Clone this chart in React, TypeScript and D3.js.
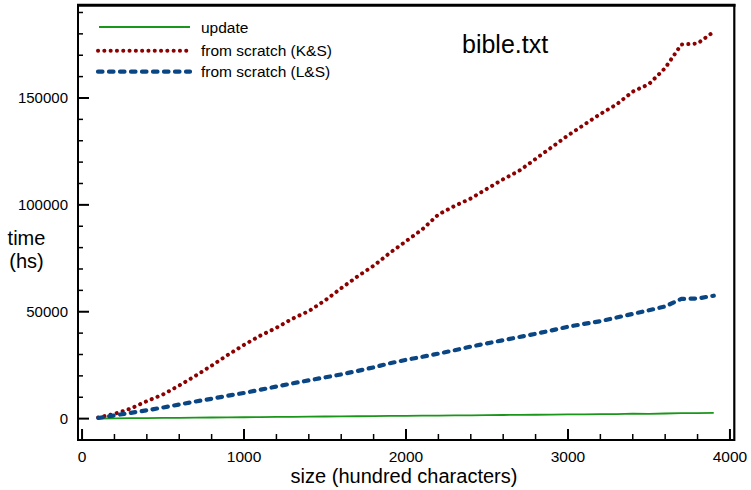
import React, { useEffect, useRef } from "react";
import * as d3 from "d3";

// x values, hundreds of characters
const sizes = d3.range(100, 4000, 100);

// times (hs)
const updateTimes = [
  50, 120, 190, 250, 320, 390, 450, 520, 580, 650, 720, 790, 850, 920, 990, 1050, 1100, 1170, 1240, 1300,
  1400, 1450, 1500, 1550, 1620, 1690, 1750, 1820, 1900, 1960, 2020, 2080, 2150, 2300, 2250, 2400, 2550, 2600, 2650,
];
const ksTimes = [
  500, 2200, 4700, 8200, 11300, 15500, 20000, 24800, 29800, 34500, 38800, 42500, 46800, 50300, 55300, 61000,
  66500, 71500, 77500, 83000, 88500, 95500, 99500, 103000, 107500, 112000, 116000, 121500, 127000, 132500,
  137500, 142500, 147000, 153000, 156500, 164000, 175000, 175500, 181000,
];
const lsTimes = [
  300, 1500, 2700, 3900, 5200, 6600, 8000, 9300, 10700, 12000, 13500, 15000, 16500, 17900, 19300, 20700,
  22300, 24000, 25900, 27500, 28900, 30400, 32000, 33700, 35200, 36700, 38200, 39700, 41300, 43000, 44300,
  45600, 47300, 49000, 50700, 52500, 56000, 56200, 57500,
];

const seriesNames = ["update", "from scratch (K&S)", "from scratch (L&S)"];
const xTickLabels = [0, 1000, 2000, 3000, 4000];
const yTickLabels = [0, 50000, 100000, 150000];

const FONT = "'Liberation Sans', Arial, Helvetica, sans-serif";

export default function App() {
  const svgRef = useRef<SVGSVGElement>(null);
  const width = 751;
  const height = 490;

  useEffect(() => {
    const svg = d3.select(svgRef.current);
    svg.selectAll("*").remove();

    const x = d3.scaleLinear().domain([-25, 4025]).range([78, 734]);
    const y = d3.scaleLinear().domain([-10000, 193500]).range([440, 5]);

    const styles = [
      { color: "#1a961a", width: 1.8, dash: null, cap: "butt" },
      { color: "#8c0000", width: 4, dash: "0.1 6.2", cap: "round" },
      { color: "#0a4584", width: 4.2, dash: "4.5 6.5", cap: "round" },
    ];
    const data = [updateTimes, ksTimes, lsTimes];

    const line = d3
      .line<number>()
      .x((_, i) => x(sizes[i]))
      .y((d) => y(d));

    // x ticks (minor every 200, major every 1000), pointing inward
    const xMinor = d3.range(0, 4001, 200);
    svg.selectAll(".xt")
      .data(xMinor)
      .enter()
      .append("line")
      .attr("x1", (d) => x(d))
      .attr("x2", (d) => x(d))
      .attr("y1", 440)
      .attr("y2", (d) => (d % 1000 === 0 ? 429 : 434))
      .attr("stroke", "black")
      .attr("stroke-width", (d) => (d % 1000 === 0 ? 2 : 1.5));

    // y ticks (minor every 10000, major every 50000)
    const yMinor = d3.range(0, 190001, 10000);
    svg.selectAll(".yt")
      .data(yMinor)
      .enter()
      .append("line")
      .attr("x1", 78)
      .attr("x2", (d) => (d % 50000 === 0 ? 89 : 83))
      .attr("y1", (d) => y(d))
      .attr("y2", (d) => y(d))
      .attr("stroke", "black")
      .attr("stroke-width", (d) => (d % 50000 === 0 ? 2 : 1.5));

    // series
    data.forEach((vals, i) => {
      const s = styles[i];
      svg.append("path")
        .datum(vals)
        .attr("d", line)
        .attr("fill", "none")
        .attr("stroke", s.color)
        .attr("stroke-width", s.width)
        .attr("stroke-linecap", s.cap)
        .attr("stroke-linejoin", "round")
        .attr("stroke-dasharray", s.dash);
    });

    // frame
    svg.append("line").attr("x1", 78).attr("x2", 78).attr("y1", 4).attr("y2", 441)
      .attr("stroke", "black").attr("stroke-width", 2);
    svg.append("line").attr("x1", 77).attr("x2", 735).attr("y1", 440).attr("y2", 440)
      .attr("stroke", "black").attr("stroke-width", 2);
    svg.append("line").attr("x1", 77).attr("x2", 735.5).attr("y1", 5.2).attr("y2", 5.2)
      .attr("stroke", "black").attr("stroke-width", 3);
    svg.append("line").attr("x1", 734.3).attr("x2", 734.3).attr("y1", 4).attr("y2", 441)
      .attr("stroke", "black").attr("stroke-width", 2.2);

    // tick labels
    svg.selectAll(".xl")
      .data(xTickLabels)
      .enter()
      .append("text")
      .attr("x", (d) => x(d))
      .attr("y", 462)
      .attr("text-anchor", "middle")
      .style("font-family", FONT)
      .style("font-size", "15.5px")
      .text((d) => d);

    svg.selectAll(".yl")
      .data(yTickLabels)
      .enter()
      .append("text")
      .attr("x", 68)
      .attr("y", (d) => y(d) + 5.2)
      .attr("text-anchor", "end")
      .style("font-family", FONT)
      .style("font-size", "15px")
      .text((d) => d);

    // axis titles
    svg.append("text")
      .attr("x", 404)
      .attr("y", 483)
      .attr("text-anchor", "middle")
      .style("font-family", FONT)
      .style("font-size", "20px")
      .text("size (hundred characters)");
    svg.append("text")
      .attr("x", 26.5)
      .attr("y", 245)
      .attr("text-anchor", "middle")
      .style("font-family", FONT)
      .style("font-size", "20px")
      .text("time");
    svg.append("text")
      .attr("x", 26.5)
      .attr("y", 268)
      .attr("text-anchor", "middle")
      .style("font-family", FONT)
      .style("font-size", "20px")
      .text("(hs)");

    // title
    svg.append("text")
      .attr("x", 462)
      .attr("y", 53)
      .style("font-family", FONT)
      .style("font-size", "25px")
      .text("bible.txt");

    // legend
    const legY = [27, 50.7, 71.7];
    seriesNames.forEach((name, i) => {
      const s = styles[i];
      svg.append("line")
        .attr("x1", i === 0 ? 99 : 98)
        .attr("x2", i === 1 ? 188 : 190)
        .attr("y1", legY[i])
        .attr("y2", legY[i])
        .attr("stroke", s.color)
        .attr("stroke-width", s.width)
        .attr("stroke-linecap", s.cap)
        .attr("stroke-dasharray", s.dash);
      svg.append("text")
        .attr("x", 201)
        .attr("y", legY[i] + 5.5)
        .style("font-family", FONT)
        .style("font-size", "15.5px")
        .text(name);
    });
  }, []);

  return (
    <svg
      ref={svgRef}
      width={width}
      height={height}
      style={{ position: "absolute", left: 0, top: 0, background: "white" }}
    />
  );
}
